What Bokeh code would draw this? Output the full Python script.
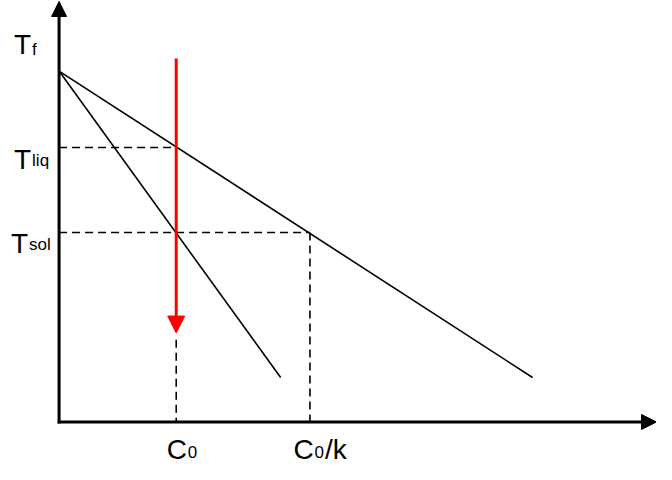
from bokeh.plotting import figure
from bokeh.models import Arrow, NormalHead, Range1d
from bokeh.core.properties import value
from bokeh.embed import file_html
from bokeh.resources import INLINE

# ---- diagram values (composition C, temperature T) ----
C_axis_end = 612
T_axis_end = 435
T_f = 363
T_liq = 284
T_sol = 196
C0 = 120
C0_over_k = 257
liquidus_C = [0, 485]
liquidus_T = [363, 46]
solidus_C = [0, 227]
solidus_T = [363, 46]
cooling_T = [376, 92]       # red arrow start / end at C0
c0_drop_top = 85            # dashed drop line at C0 below the arrow

main_labels = ["T", "T", "T", "C", "C", "/k"]
sub_labels = ["f", "liq", "sol", "0", "0"]

FONT = "Liberation Sans"
MAIN = "28px"
SUB = "17px"

p = figure(width=656, height=464,
           x_range=Range1d(-60, 612), y_range=Range1d(-44, 436),
           x_axis_type=None, y_axis_type=None,
           output_backend="svg", toolbar_location=None,
           min_border=0, min_border_left=0, min_border_right=0,
           min_border_top=0, min_border_bottom=0)
p.grid.visible = False
p.outline_line_color = None
p.background_fill_color = "white"
p.border_fill_color = "white"

# axes with arrow heads
p.add_layout(Arrow(end=NormalHead(size=15, fill_color="black", line_color="black", line_width=1),
                   x_start=0, y_start=-1.5, x_end=0, y_end=T_axis_end,
                   line_width=3, line_color="black"))
p.add_layout(Arrow(end=NormalHead(size=15, fill_color="black", line_color="black", line_width=1),
                   x_start=-1.5, y_start=0, x_end=C_axis_end, y_end=0,
                   line_width=3, line_color="black"))

# liquidus and solidus
p.line(liquidus_C, liquidus_T, line_width=1.6, line_color="black")
p.line(solidus_C, solidus_T, line_width=1.6, line_color="black")

# dashed construction lines
dash = "8 5"
p.line([0, C0], [T_liq, T_liq], line_width=1.6, line_color="black", line_dash=dash)
p.line([0, C0_over_k], [T_sol, T_sol], line_width=1.6, line_color="black", line_dash=dash)
p.line([C0, C0], [c0_drop_top, 0], line_width=1.6, line_color="black", line_dash=dash)
p.line([C0_over_k, C0_over_k], [T_sol, 0], line_width=1.6, line_color="black", line_dash=dash)

# red cooling arrow
p.add_layout(Arrow(end=NormalHead(size=17, fill_color="#ff0000", line_color="#ff0000", line_width=1),
                   x_start=C0, y_start=cooling_T[0], x_end=C0, y_end=cooling_T[1],
                   line_width=3, line_color="#ff0000"))

# label placement (layout only): anchored at the axis / tick values, offsets in px
main_x = [0, 0, 0, C0, C0_over_k, C0_over_k]
main_y = [390, T_liq - 12, T_sol - 11, -28, -28, -28]
main_dx = [-45, -45, -48, -9.5, -16.5, 15]
sub_x = [0, 0, 0, C0, C0_over_k]
sub_y = [385, T_liq - 13, T_sol - 12, -31, -31]
sub_dx = [-27, -27, -30, 11.5, 4.5]

p.text(x=main_x, y=main_y, text=main_labels, x_offset=main_dx,
       text_font=value(FONT), text_font_size=MAIN,
       text_align="left", text_baseline="alphabetic", text_color="black")
p.text(x=sub_x, y=sub_y, text=sub_labels, x_offset=sub_dx,
       text_font=value(FONT), text_font_size=SUB,
       text_align="left", text_baseline="alphabetic", text_color="black")

open("out.html", "w").write(file_html(p, INLINE))
